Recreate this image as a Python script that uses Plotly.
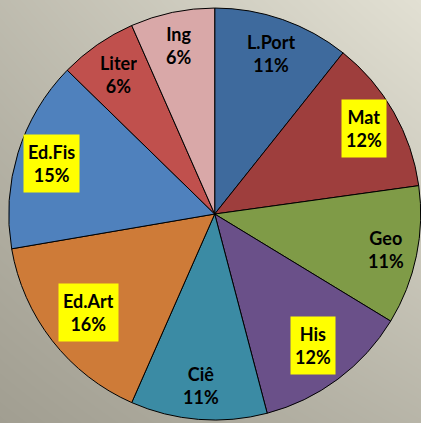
import math
import plotly.graph_objects as go

# ---- data ----
subjects = ["L.Port", "Mat", "Geo", "His", "Ciê", "Ed.Art", "Ed.Fis", "Liter", "Ing"]
shares = [10.7, 12.1, 10.9, 12.2, 10.7, 15.7, 15.0, 6.1, 6.6]
pct_labels = ["11%", "12%", "11%", "12%", "11%", "16%", "15%", "6%", "6%"]
highlighted = ["Mat", "His", "Ed.Art", "Ed.Fis"]

# ---- style ----
colors = ["#3E6A9D", "#9E3E3D", "#7F9B47", "#6A5089", "#3B8BA4",
          "#CE7B38", "#4F81BD", "#C0504D", "#D9A8A8"]
label_radius = [0.825, 0.835, 0.85, 0.796, 0.833, 0.775, 0.83, 0.823, 0.835]

W, H = 421, 423
dom_x = [0.02, 1.0]
dom_y = [0.007, 0.981]

fig = go.Figure()

# background gradient (warm gray, lighter at top-right)
fig.add_trace(go.Heatmap(
    z=[[0.0, 0.35], [0.45, 1.0]], x=[0, 1], y=[0, 1],
    zsmooth="best", showscale=False, hoverinfo="skip",
    colorscale=[[0, "#A19E91"], [1, "#E2E0D3"]],
    xaxis="x", yaxis="y",
))

fig.add_trace(go.Pie(
    labels=subjects, values=shares, sort=False, direction="clockwise",
    rotation=0, marker=dict(colors=colors, line=dict(color="#000000", width=1)),
    textinfo="none", hoverinfo="label+percent", showlegend=False,
    domain=dict(x=dom_x, y=dom_y),
))

# label positions derived from slice angles
px0, px1 = dom_x[0] * W, dom_x[1] * W
py0, py1 = dom_y[0] * H, dom_y[1] * H
cx, cy = (px0 + px1) / 2, (py0 + py1) / 2
R = min(px1 - px0, py1 - py0) / 2
total = sum(shares)
acc = 0.0
for name, v, p, f in zip(subjects, shares, pct_labels, label_radius):
    mid = (acc + v / 2) / total * 2 * math.pi
    acc += v
    x = cx + R * f * math.sin(mid)
    y = cy + R * f * math.cos(mid)
    hl = name in highlighted
    fig.add_annotation(
        x=x / W, y=y / H, xref="paper", yref="paper",
        xanchor="center", yanchor="middle",
        text=f"<b>{name}</b><br><b>{p}</b>", showarrow=False,
        font=dict(family="Lato", size=18, color="#000000"),
        bgcolor="#FFFF00" if hl else "rgba(0,0,0,0)",
        borderpad=4, height=49, valign="middle", align="center",
    )

fig.update_layout(
    width=W, height=H, margin=dict(l=0, r=0, t=0, b=0),
    paper_bgcolor="#C8C6B9", plot_bgcolor="rgba(0,0,0,0)",
    xaxis=dict(range=[0, 1], visible=False, domain=[0, 1], fixedrange=True),
    yaxis=dict(range=[0, 1], visible=False, domain=[0, 1], fixedrange=True),
)

fig.write_html(
    "out.html",
    config={"displayModeBar": False},
    post_script="document.body.style.margin='0';document.body.style.overflow='hidden';",
)
